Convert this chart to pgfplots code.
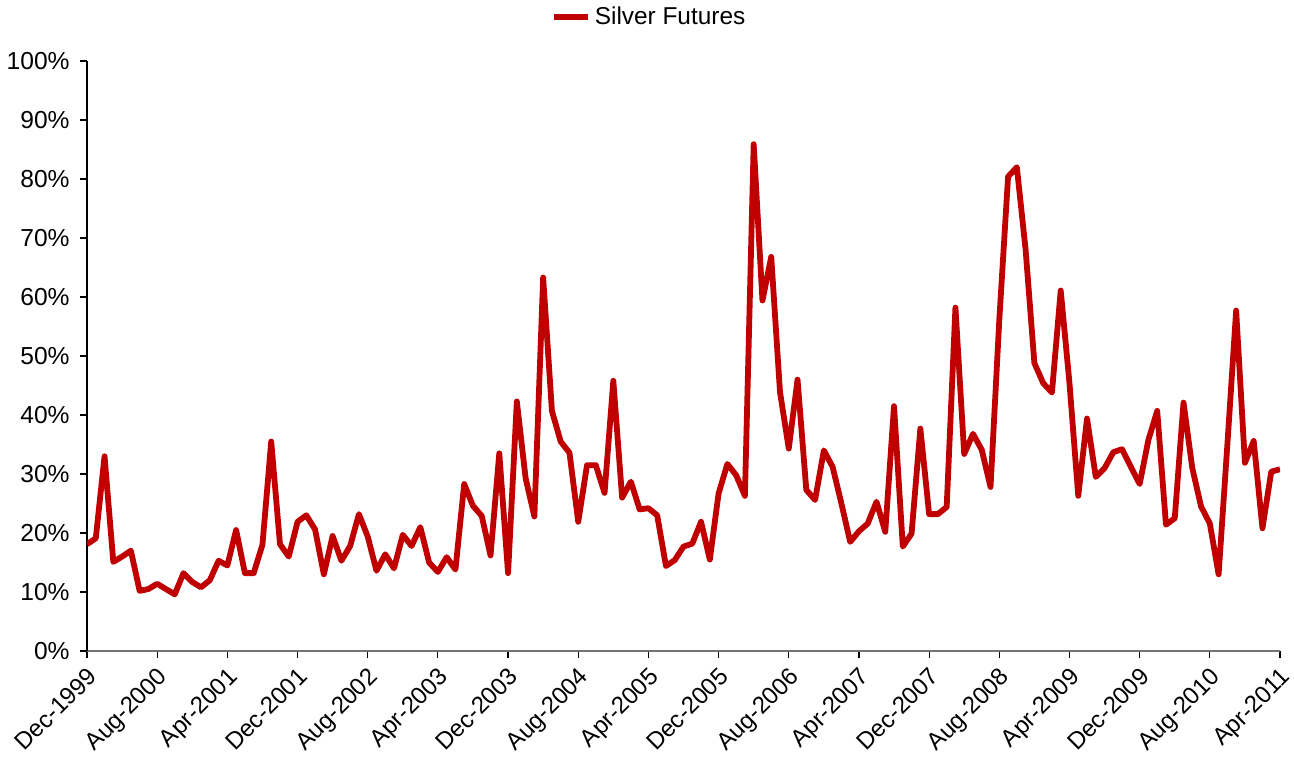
\documentclass[border=0pt]{standalone}
\usepackage{pgfplots}
\pgfplotsset{compat=1.18}
\usepackage{fontspec}
\setmainfont{Liberation Sans}
\definecolor{silver}{HTML}{C00000}
\begin{document}
\begin{tikzpicture}
\begin{axis}[
  scale only axis,
  width=596.5pt, height=295pt,
  xmin=0, xmax=136, ymin=0, ymax=100,
  axis x line*=bottom, axis y line*=left,
  x axis line style={draw=black!55, line width=0.8pt},
  y axis line style={draw=black, line width=0.8pt},
  xtick={0,8,...,136},
  xticklabels={Dec-1999,Aug-2000,Apr-2001,Dec-2001,Aug-2002,Apr-2003,Dec-2003,Aug-2004,Apr-2005,Dec-2005,Aug-2006,Apr-2007,Dec-2007,Aug-2008,Apr-2009,Dec-2009,Aug-2010,Apr-2011},
  ytick={0,10,...,100},
  yticklabels={0\%,10\%,20\%,30\%,40\%,50\%,60\%,70\%,80\%,90\%,100\%},
  tick align=outside,
  major tick length=3.5pt,
  tick style={black, line width=0.6pt},
  x tick label style={rotate=45, anchor=north east, inner sep=0.5pt, xshift=-2.5pt, yshift=-2pt, font=\fontsize{12}{13}\selectfont},
  y tick label style={inner sep=2pt, xshift=-3pt, font=\fontsize{12.3}{14}\selectfont},
  legend style={at={(0.472,1.0746)}, anchor=center, draw=none, fill=none,
    font=\fontsize{12.2}{14}\selectfont, legend columns=1},
  legend image post style={line width=2.9pt},
  legend cell align=left,
]
\addplot[color=silver, line width=2.9pt, line join=round, mark=none] table {
x y
0 18.1
1 19.1
2 33.0
3 15.1
4 16.0
5 17.0
6 10.2
7 10.5
8 11.4
9 10.5
10 9.6
11 13.2
12 11.7
13 10.8
14 12.0
15 15.3
16 14.5
17 20.5
18 13.2
19 13.2
20 18.0
21 35.5
22 18.1
23 16.0
24 21.9
25 23.0
26 20.6
27 13.0
28 19.5
29 15.3
30 17.8
31 23.2
32 19.4
33 13.6
34 16.4
35 14.0
36 19.7
37 17.8
38 21.0
39 15.0
40 13.4
41 15.9
42 13.8
43 28.3
44 24.6
45 22.9
46 16.2
47 33.5
48 13.2
49 42.3
50 29.3
51 22.8
52 63.3
53 40.7
54 35.5
55 33.6
56 21.9
57 31.5
58 31.5
59 26.8
60 45.8
61 26.0
62 28.7
63 24.0
64 24.2
65 23.0
66 14.4
67 15.4
68 17.7
69 18.2
70 21.9
71 15.5
72 26.7
73 31.7
74 29.8
75 26.3
76 85.9
77 59.4
78 66.8
79 43.9
80 34.3
81 46.0
82 27.3
83 25.6
84 34.0
85 31.2
86 25.0
87 18.5
88 20.3
89 21.6
90 25.3
91 20.2
92 41.5
93 17.7
94 19.9
95 37.7
96 23.2
97 23.2
98 24.4
99 58.2
100 33.4
101 36.8
102 34.1
103 27.8
104 56.1
105 80.4
106 82.0
107 68.0
108 48.8
109 45.4
110 43.8
111 61.1
112 45.4
113 26.3
114 39.4
115 29.5
116 31.0
117 33.7
118 34.2
119 31.2
120 28.3
121 35.8
122 40.7
123 21.4
124 22.5
125 42.1
126 31.0
127 24.5
128 21.6
129 13.0
130 35.0
131 57.7
132 31.9
133 35.6
134 20.8
135 30.4
136 30.8
};
\addlegendentry{Silver Futures}
\end{axis}
\pgfresetboundingbox
\path[use as bounding box] (-43.5pt,-55pt) rectangle (603.5pt,325.5pt);
\end{tikzpicture}
\end{document}
